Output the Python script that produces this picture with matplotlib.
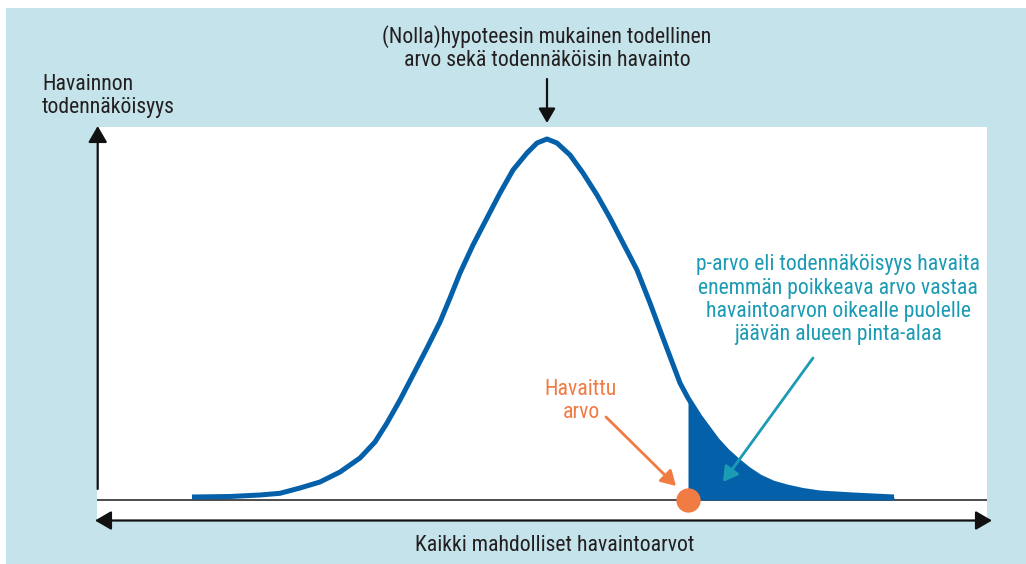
import numpy as np
import matplotlib
matplotlib.use("Agg")
import matplotlib.pyplot as plt
from matplotlib import font_manager
from matplotlib.patches import Rectangle

W, H = 1026, 564

# curve: distance from the y axis and height above the baseline (px)
curve_x = [95, 133, 163, 183, 203, 223, 243, 263, 278, 290, 303, 316, 330, 343,
           353, 363, 376, 390, 403, 416, 430, 440, 450, 460, 473, 486, 500, 513,
           526, 540, 553, 566, 583, 591, 603, 620, 630, 640, 651, 663, 676, 690,
           706, 723, 756, 797]
curve_y = [3, 3.5, 5, 6.7, 12, 18, 28, 42, 58, 77, 100, 125, 152, 178,
           202, 227, 255, 282, 307, 330, 347, 357, 361, 357, 345, 327, 305, 282,
           257, 230, 197, 162, 117, 102, 83, 60, 49, 40, 31, 23, 17, 13,
           9.5, 7, 5, 3]
observed_x = 591
peak_x = 450

title_text = "(Nolla)hypoteesin mukainen todellinen\narvo sekä todennäköisin havainto"
ylabel_text = "Havainnon\ntodennäköisyys"
xlabel_text = "Kaikki mahdolliset havaintoarvot"
observed_text = "Havaittu\narvo"
pvalue_text = ("p-arvo eli todennäköisyys havaita\nenemmän poikkeava arvo vastaa\n"
               "havaintoarvon oikealle puolelle\njäävän alueen pinta-alaa")

BG = "#c5e3ea"
BLUE = "#0461a9"
ORANGE = "#f07b43"
TEAL = "#1b9bb4"
INK = "#231f20"


def pick_font():
    # the original uses a condensed face, take the narrowest one we have
    entries = font_manager.fontManager.ttflist
    names = {f.name for f in entries}
    for fam in ["Liberation Sans Narrow", "Roboto Condensed", "Open Sans Condensed",
                "Noto Sans Condensed", "DejaVu Sans Condensed"]:
        if fam in names:
            return fam, "normal"
    for fam in ["Noto Sans", "Open Sans", "Roboto", "DejaVu Sans"]:
        for f in entries:
            if f.name == fam and str(f.stretch) in ("condensed", "semi-condensed"):
                return fam, str(f.stretch)
    return "DejaVu Sans", "normal"


FAM, STRETCH = pick_font()

fig = plt.figure(figsize=(W / 100, H / 100), dpi=100)
fig.patch.set_facecolor("white")
fig.patches.append(Rectangle((6 / W, 0), 1 - 6 / W, 1 - 8 / H, transform=fig.transFigure,
                             facecolor=BG, edgecolor="none", zorder=-10))

# fit the font size to the width of the title's first line (a bit larger, the original face is narrower)
r = fig.canvas.get_renderer()
probe = fig.text(0, 0, title_text.split("\n")[0], family=FAM, stretch=STRETCH, fontsize=20)
FS = 1.08 * 20 * 305 / probe.get_window_extent(r).width
probe.remove()
font = dict(family=FAM, stretch=STRETCH, fontsize=FS, linespacing=1.14)

ax = fig.add_axes([97 / W, 1 - 521 / H, 890 / W, 394 / H])
ax.set_facecolor("white")
for s in ax.spines.values():
    s.set_visible(False)
ax.set_xticks([])
ax.set_yticks([])
ax.set_xlim(0, 890)
ax.set_ylim(-21, 373)

cx = np.array(curve_x)
cy = np.array(curve_y)
tail = cx >= observed_x
ax.fill_between(cx[tail], 0, cy[tail], color=BLUE, linewidth=0, zorder=2)
ax.plot(cx, cy, color=BLUE, lw=3.6, solid_capstyle="butt", solid_joinstyle="round", zorder=3)
ax.axhline(0, color="#1a1a1a", lw=1.1, zorder=1)
ax.plot([observed_x], [0], "o", ms=17.5, color=ORANGE, mec="none", clip_on=False, zorder=5)

head = "-|>,head_length=0.55,head_width=0.32"
ax.annotate("", xy=(0.7, 374), xytext=(0.7, 11), annotation_clip=False,
            arrowprops=dict(arrowstyle=head, color="#111111", lw=1.6, mutation_scale=18,
                            shrinkA=0, shrinkB=0))
ax.annotate("", xy=(895, -20.5), xytext=(-2, -20.5), annotation_clip=False,
            arrowprops=dict(arrowstyle="<|-|>,head_length=0.55,head_width=0.32",
                            color="#111111", lw=1.6, mutation_scale=18, shrinkA=0, shrinkB=0))
ax.annotate("", xy=(peak_x, 377), xytext=(peak_x, 421), annotation_clip=False,
            arrowprops=dict(arrowstyle=head, color="#111111", lw=1.6, mutation_scale=16,
                            shrinkA=0, shrinkB=0))
ax.annotate("", xy=(579, 14), xytext=(509, 83),
            arrowprops=dict(arrowstyle=head, color=ORANGE, lw=2, mutation_scale=16,
                            shrinkA=0, shrinkB=0))
ax.annotate("", xy=(626, 18), xytext=(716, 142),
            arrowprops=dict(arrowstyle=head, color=TEAL, lw=2, mutation_scale=16,
                            shrinkA=0, shrinkB=0))

# va="baseline" on multi-line text sits the last line on y
ax.text(peak_x, 500 - 66, title_text, ha="center", va="baseline", color=INK,
        clip_on=False, **font)
ax.text(42 - 97, 500 - 113, ylabel_text, ha="left", va="baseline", color=INK,
        clip_on=False, **font)
ax.text(555 - 97, 500 - 551, xlabel_text, ha="center", va="baseline", color=INK,
        clip_on=False, **font)
ax.text(581 - 97, 500 - 418, observed_text, ha="center", va="baseline", color=ORANGE,
        **font)
ax.text(838 - 97, 500 - 340, pvalue_text, ha="center", va="baseline", color=TEAL,
        **font)

fig.savefig("out.png", dpi=100, facecolor=fig.get_facecolor())
